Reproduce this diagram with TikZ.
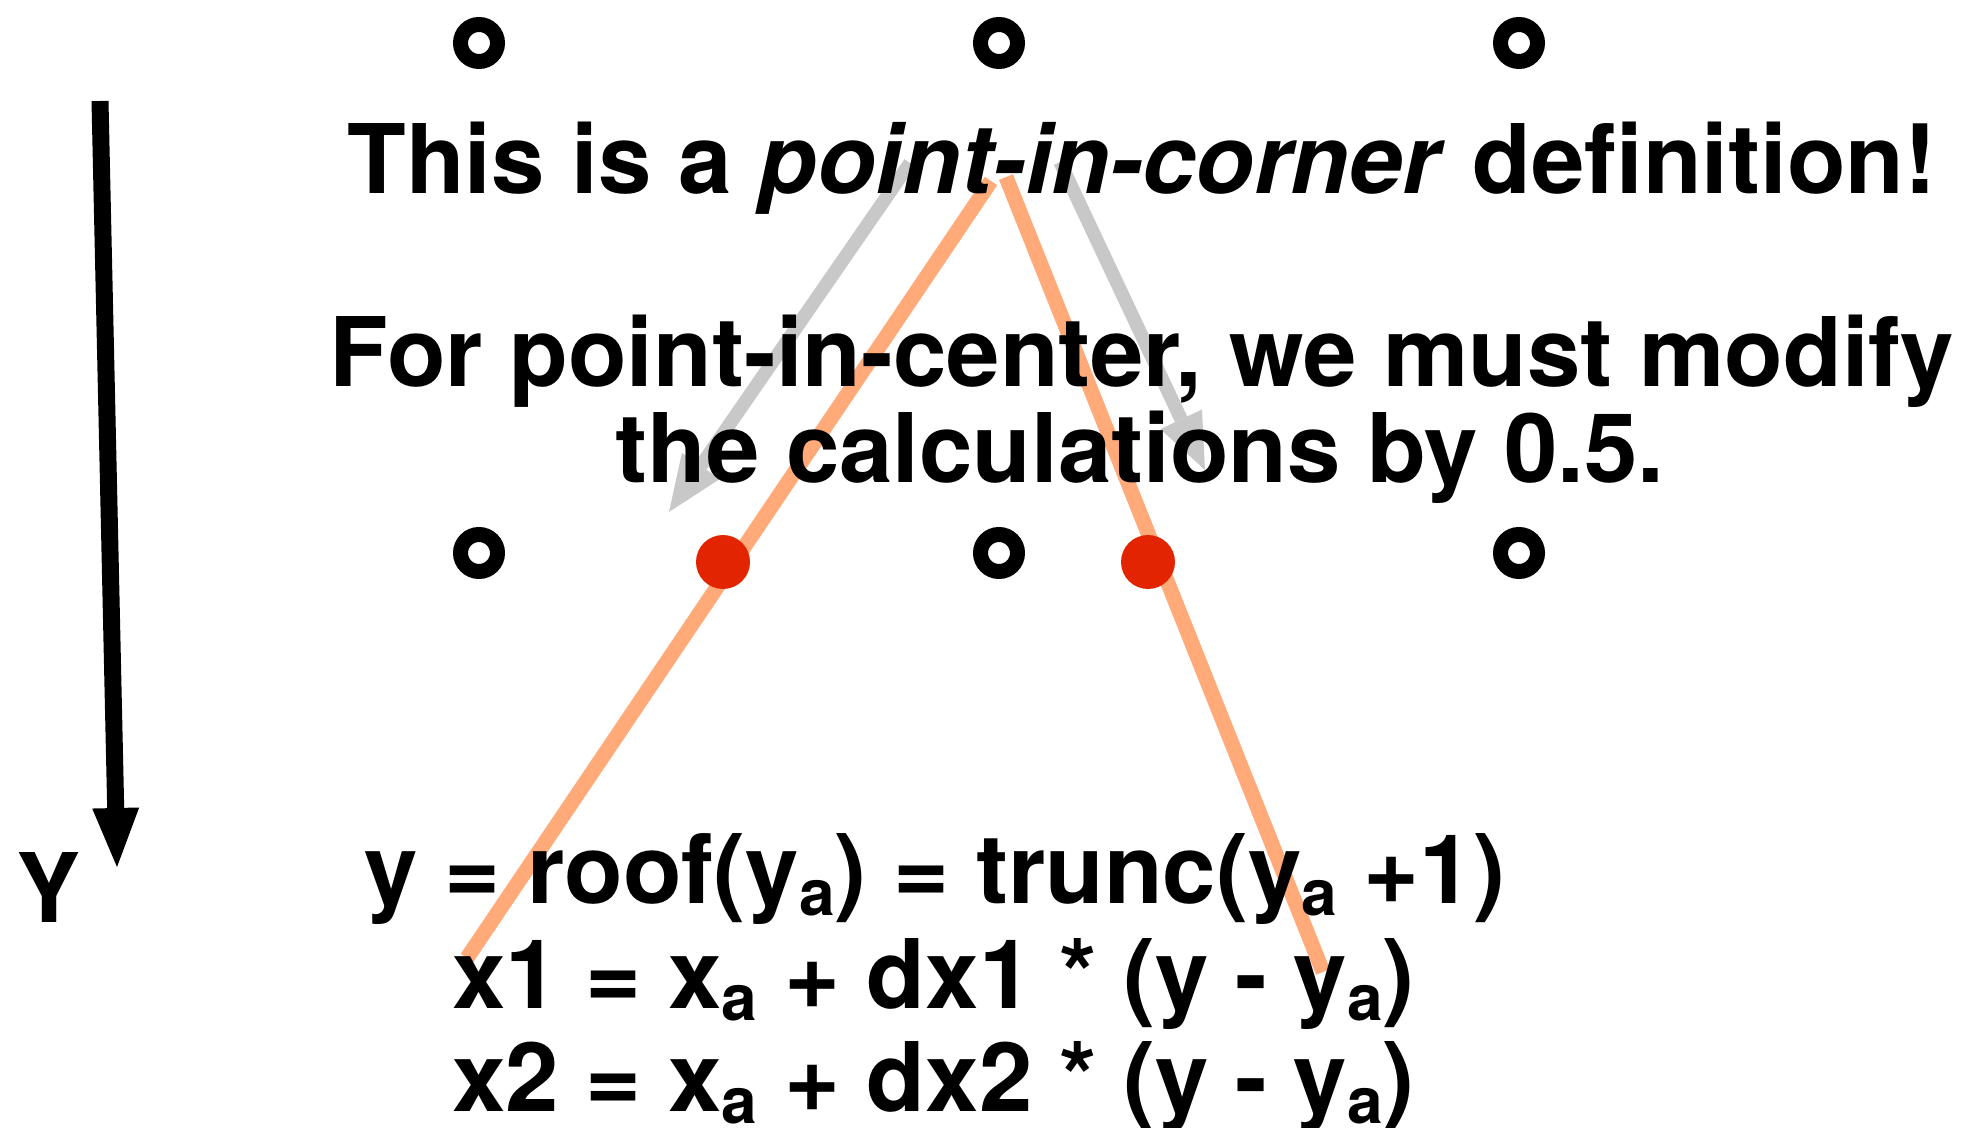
\documentclass[tikz,border=0pt]{standalone}
\usepackage{fontspec}
\setmainfont{TeX Gyre Heros}
\usetikzlibrary{arrows.meta}
\definecolor{orangeln}{RGB}{255,170,120}
\definecolor{grayar}{RGB}{200,200,200}
\definecolor{reddot}{RGB}{227,36,0}
\newcommand{\subA}{\raisebox{-6pt}{\fontsize{32}{32}\selectfont a}}
\begin{document}
\begin{tikzpicture}[x=0.5pt,y=-0.5pt,
  txt/.style={inner sep=0pt,font=\fontsize{48}{58}\selectfont\bfseries},
  ring/.style={circle,draw=black,line width=7.5pt,fill=white,minimum size=18.5pt,inner sep=0pt},
  hit/.style={circle,fill=reddot,minimum size=27pt,inner sep=0pt},
  edgeln/.style={draw=orangeln,line width=7.5pt},
  grayarrow/.style={draw=grayar,line width=6.75pt,-{Triangle[length=28pt,width=23pt,line width=0pt]}},
  axisarrow/.style={draw=black,line width=8.5pt,-{Triangle[length=29.5pt,width=23.5pt,line width=0pt]}}]
\useasboundingbox (0,0) rectangle (1961,1128);
% coordinates
\coordinate (apexL) at (991,181);
\coordinate (apexR) at (1006,177);
\coordinate (endL) at (467,958);
\coordinate (endR) at (1323,972);
\coordinate (g1s) at (910,163);
\coordinate (g1e) at (669,512);
\coordinate (g2s) at (1060,162);
\coordinate (g2e) at (1205,470);
\coordinate (ys) at (100,101);
\coordinate (ye) at (117,867);
% orange edges
\draw[edgeln] (apexL) -- (endL);
\draw[edgeln] (apexR) -- (endR);
% gray arrows
\draw[grayarrow] (g1s) -- (g1e);
\draw[grayarrow] (g2s) -- (g2e);
% axis
\draw[axisarrow] (ys) -- (ye);
\node[txt,anchor=base] (ylab) at (49,922) {Y};
% pixel centers
\node[ring] (p11) at (479,43) {};
\node[ring] (p12) at (999,43) {};
\node[ring] (p13) at (1519,43) {};
\node[ring] (p21) at (479,553) {};
\node[ring] (p22) at (999,553) {};
\node[ring] (p23) at (1519,553) {};
% intersections
\node[hit] (h1) at (723,562) {};
\node[hit] (h2) at (1148,562) {};
% texts
\node[txt,anchor=base] (t1) at (1142,194) {This is a \textit{point-in-corner} definition!};
\node[txt,anchor=base] (t2) at (1142,387) {For point-in-center, we must modify};
\node[txt,anchor=base] (t3) at (1140,483) {the calculations by 0.5.};
\node[txt,anchor=base west] (f1) at (364,903) {y = roof(y\subA) = trunc(y\subA{} +1)};
\node[txt,anchor=base west] (f2) at (452,1008) {x1 = x\subA{} + dx1 * (y - y\subA)};
\node[txt,anchor=base west] (f3) at (452,1111) {x2 = x\subA{} + dx2 * (y - y\subA)};
\end{tikzpicture}
\end{document}
